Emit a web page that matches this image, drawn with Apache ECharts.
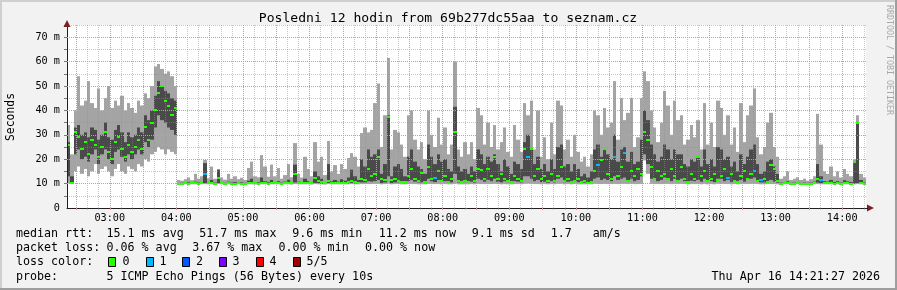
<!DOCTYPE html>
<html><head><meta charset="utf-8">
<script src="https://cdn.jsdelivr.net/npm/echarts@6/dist/echarts.min.js"></script>
<style>html,body{margin:0;padding:0;background:#f2f2f2}#c{width:897px;height:290px}</style>
</head><body><div id="c"></div>
<script>
// time axis in minutes since midnight: 02:21:27 .. 14:21:27
const START_MIN = 141.45;
const END_MIN = 861.45;
const STEP_MIN = 3;

const rttMin = [
 10,9.8,15,17,14,16,13,15,18,14,16,17,15,13,16,18,15,14,17,16,
 15,18,17,20,19,22,23,25,24,22,24,23,22,9.6,9.7,9.7,9.6,9.7,9.7,9.6,
 9.7,9.8,9.7,9.7,9.6,9.8,9.7,9.6,9.7,9.7,9.6,9.7,9.7,9.6,9.7,9.7,9.6,9.7,9.7,9.7,
 9.6,9.7,9.7,9.7,9.6,9.7,9.7,9.6,9.8,9.7,9.7,9.7,9.7,9.6,9.8,9.7,9.7,9.6,9.8,9.7,
 9.7,9.7,9.7,9.7,9.7,9.8,9.7,9.7,9.8,9.8,9.8,9.8,9.9,9.9,9.7,9.8,10,9.7,9.8,9.8,
 9.7,9.7,9.8,9.8,9.8,9.7,9.7,9.7,9.9,9.8,9.8,9.8,9.7,9.8,9.7,9.7,10,9.7,9.7,9.7,
 9.7,9.8,9.7,9.9,9.8,9.8,9.8,9.8,9.9,9.8,9.7,9.8,9.7,9.7,9.8,9.8,9.7,9.9,10,9.9,
 9.8,9.8,9.7,9.8,9.7,9.8,9.7,9.9,9.9,9.7,9.8,9.7,9.8,9.7,9.7,9.7,9.7,9.7,9.9,9.9,
 9.8,9.9,9.8,9.8,9.9,9.8,9.9,9.9,9.8,9.9,9.8,9.8,9.9,19.5,14,9.9,9.8,9.8,9.8,9.9,
 9.9,9.8,9.9,9.8,9.9,9.8,9.7,9.8,9.8,9.8,9.7,9.9,9.7,9.8,9.7,9.9,9.9,9.8,9.8,9.7,
 9.8,9.7,9.8,9.8,9.8,9.9,9.9,9.8,9.7,9.7,9.8,9.8,9.8,9.7,9.6,9.7,9.7,9.6,9.7,9.7,
 9.6,9.7,9.6,9.7,9.7,9.8,9.7,9.7,9.7,9.7,9.6,9.7,9.6,9.7,9.7,9.6,9.7,9.8,9.7,9.6
];
const rttLo = [
 13,10,22,24,20,21,19,22,24,18,22,24,20,18,23,24,21,19,22,20,
 22,24,22,27,25,28,33,38,36,35,33,32,30,9.8,9.8,9.9,9.8,9.9,9.9,9.8,
 9.9,10.2,9.9,10,9.8,10.2,9.9,9.8,9.9,9.9,9.8,9.9,9.9,9.8,9.9,10,9.9,9.9,10,9.9,
 9.8,10,9.9,9.9,9.8,9.9,10,9.9,10.5,9.9,9.9,10,9.9,9.9,10.3,10.2,10,9.9,10.3,9.9,
 10,9.9,10,10,10.1,10.3,10.1,10,10.5,10.5,11,10.8,11,11.5,10.2,10.5,13,10.2,10.5,10.6,
 10.3,10.2,11,11.5,10.8,10.5,10.5,10.2,12,11,10.6,11.5,10.8,11,10.4,10.5,14,10.5,10.3,10.6,
 10.3,10.8,10.4,12,11.5,10.8,11.5,11,12,10.8,10.5,11,10.6,10.3,11,10.8,10.5,13,13,12,
 11,11.5,10.6,10.8,10.4,11,10.5,12,12.5,10.6,10.8,10.4,11,10.6,10.3,10.4,10.2,10.5,12,12.5,
 11.5,12,11.5,11,13,11.5,12,12.5,11,12,11,11.5,13,22,18,12,11.5,11,11.5,12.5,
 12,11,12,11.5,12,11,10.6,11.2,11,11.5,10.8,12,10.8,11,10.6,12,12,11,11.5,10.6,
 11,10.4,11.5,10.8,11.5,12,12.5,11,10.5,10.5,11,11.5,10.8,10.4,9.8,9.9,9.9,9.8,9.9,9.9,
 9.8,9.9,9.8,9.9,9.9,10.4,10.2,9.9,9.9,10,9.9,9.9,9.8,10,9.9,9.9,10,10.2,10,9.8
];
const rttHi = [
 27,13,33,34,30,31,29,33,32,28,30,35,29,28,32,34,31,27,31,29,
 30,33,31,38,36,40,46,52,50,48,47,45,44,10.2,10.3,10.4,10.5,10.3,10.8,10.4,
 10.6,18.4,10.5,11.5,10.4,15.6,10.5,10.3,10.8,10.4,10.6,10.3,10.5,10.3,11.2,12,10.6,10.5,12.5,11,
 10.5,11.5,10.6,11,10.4,10.8,11.6,10.5,17.8,10.8,10.6,12,11,10.6,15,13,12,10.6,18,11,
 11.5,10.8,11.8,11.2,12.5,15.7,13,11.5,20,17,24,21,22,24,14,18,38,13,17,18,
 16,13,21,24,19,17,16,14,26,21,18,22,19,20,16,15,41.5,17,15,16,
 14,17,15,24,22,18,21,19,22,18,15,20,17,14,19,18,16,27,30,24,
 18,21,16,18,15,20,16,25,26,17,18,15,18,16,13,14,12.5,15,24,26,
 21,24,22,20,30,19,24,25,19,23,18,19,28,40,36,26,22,19,21,26,
 24,20,24,22,22,18,17,20,19,21,17,24,18,20,17,25,24,20,21,17,
 19,15,22,18,21,24,26,18,14,15,19,20,17,14,10.4,10.6,11,10.3,10.4,10.6,
 10.3,10.4,10.3,10.4,10.8,18,13,11,10.8,11.5,10.6,11,10.4,11.4,10.9,10.6,19,35,11.5,10.4
];
const rttMax = [
 34,22,40,54,42,44,52,43,41,49,40,45,50,41,44,42,46,40,43,41,
 39,44,42,47,45,50,58,59,57,55,56,54,50,11.5,11.2,11.8,12.5,11.4,14,12,
 13,19.7,12.2,17,12,16,12.5,11.6,14,12,13,11.8,12.4,11.5,16.4,19,13,12.6,21.7,17,
 12.8,17.8,13,16.4,12,13.5,18,12.6,26.6,14,12.5,21,16,13,27,19,21,13.5,27.5,15,
 17.6,14,18,16,20.5,22.5,21,17,30.7,33,31,32,43,51,25,38,61.5,24,32,31,
 26,21,38,40,28,24,27,20,40,30,25,37,26,33,22,26,60,24,21,27,
 22,27,20,41,38,26,35,25,34,24,27,33,23,21,34,28,23,43,38,44,
 24,40,21,29,20,35,22,44,42,24,28,21,30,23,19,21,17,22,40,38,
 30,41,33,35,52,28,45,36,39,45,25,29,45,56,52,40,33,27,35,48,
 42,30,44,36,38,26,28,34,29,36,24,43,26,35,25,44,41,30,38,26,
 33,23,43,27,38,42,49,29,22,25,35,39,25,21,12,13,15,11.5,12,12.6,
 11.5,12,11.2,11.8,13,38.6,26,15,14,17,13,15,12.5,16,14,13,20,38,14,12.5
];
const rttMedian = [
 26,10.3,31,29,24,27,22,28,26,21,25,31,23,20,27,29,24,21,26,23,
 25,28,24,33,28,35,40,47,50,44,42,38,41,10,10,10.1,10,10.1,10.2,10,
 10.1,14,10.1,10.3,10,12.5,10.1,10,10.1,10,10,10.1,10,10,10.2,10.3,10.1,10,10.4,10.2,
 10,10.3,10.1,10.2,10,10.1,10.3,10.1,14,10.2,10.1,10.4,10.2,10.1,12.5,11,10.5,10.1,11,10.2,
 10.3,10.1,10.4,10.2,10.5,11,10.5,10.3,12,11.5,16,13,14,21,12,11.5,37.5,11.5,12,11,
 10.8,10.5,13,16,12,11,14.2,10.6,17,12,12.3,15,11,13,10.5,12,31,11,10.6,11,
 10.5,13,11,16,15.6,12,16,13,21,12,14,12,11,10.8,13,12,11,24,21,24,
 13,16,12,13,11,14,11,13,17,11,12,10.8,11,12,10.5,11,10.4,10.8,15,17.6,
 19.6,24,14,12,21,13,17,22.7,11,15,13,16,14,31,28,17,12,15,13,14,
 12,16,13,11,17,12,10.5,14,12,21,13,15,11,12,14,11,13,16,12.3,14,
 11,10.5,13,15,12,14,15,11,11.5,12,10.8,17.5,16,11,10,10.1,10.2,10,10,10.1,
 9.9,10,9.9,10,10.1,12,11.5,10.2,10.1,10.3,10,10.2,10,10.2,10.1,10,19,35,10.3,10
];
// [sample index, lost pings of 5]
const lossEvents = [[41,1],[110,1],[138,1],[159,1],[164,1],[167,1],[198,1],[206,1],[208,1],[226,1]];

const hourLabelMin = [180,240,300,360,420,480,540,600,660,720,780,840];
const yLabelValues = [0,10,20,30,40,50,60,70];
const lossColors = ['#26ff00','#00b8ff','#0059ff','#7e00ff','#ff0000','#a10000'];
const lossLabels = ['0','1','2','3','4','5/5'];
const titleText = 'Posledni 12 hodin from 69b277dc55aa to seznam.cz';
const legendRtt = ['median rtt:', '15.1 ms avg', '51.7 ms max', '9.6 ms min', '11.2 ms now', '9.1 ms sd', '1.7   am/s'];
const legendLoss = ['packet loss:', '0.06 % avg', '3.67 % max', '0.00 % min', '0.00 % now'];
const legendColorTitle = 'loss color:';
const legendProbe = ['probe:', '5 ICMP Echo Pings (56 Bytes) every 10s'];
const dateText = 'Thu Apr 16 14:21:27 2026';

const lossBySample = {};
lossEvents.forEach(([i, n]) => { lossBySample[i] = n; });
const data = rttMin.map((v, i) => [START_MIN + i * STEP_MIN, v, rttLo[i], rttHi[i], rttMax[i], rttMedian[i], lossBySample[i] || 0]);

// grid positions: minor every 10 minutes, major every 30 minutes; y minor every 5, major every 10
const minorX = [], majorX = [];
for (let m = 150; m <= 860; m += 10) (m % 30 === 0 ? majorX : minorX).push(m);
const minorY = [5,15,25,35,45,55,65,75];
const majorY = [10,20,30,40,50,60,70];

const MONO = '"DejaVu Sans Mono", monospace';
const LEG_FONT = '11.66px ' + MONO;
const GRID_MINOR = 'rgba(143,143,143,0.5)';
const GRID_MAJOR = '#ef8a8a';

function renderItem(params, api) {
  const t = api.value(0);
  const pA = api.coord([t, api.value(1)]);
  const pB = api.coord([t + STEP_MIN, api.value(4)]);
  const x0 = Math.round(pA[0]), x1 = Math.round(pB[0]);
  const w = Math.max(1, x1 - x0);
  const yMin = pA[1], yMax = pB[1];
  const yLo = api.coord([t, api.value(2)])[1];
  const yHi = api.coord([t, api.value(3)])[1];
  const yMed = api.coord([t, api.value(5)])[1];
  const loss = api.value(6);
  return { type: 'group', children: [
    { type: 'rect', shape: { x: x0, y: yMax, width: w, height: Math.max(1, yMin - yMax) }, style: { fill: '#a4a4a4' } },
    { type: 'rect', shape: { x: x0, y: yHi, width: w, height: Math.max(0.5, yLo - yHi) }, style: { fill: '#4a4a4a' } },
    { type: 'rect', shape: { x: x0, y: Math.round(yMed) - 1, width: w, height: 2 }, style: { fill: lossColors[loss] } }
  ]};
}

function txt(x, y, s, align) {
  return { type: 'text', x: x, y: y, style: { text: s, font: LEG_FONT, fill: '#000', align: align || 'left', verticalAlign: 'middle' } };
}

const graphics = [
  { type: 'rect', shape: { x: 0, y: 0, width: 897, height: 2 }, style: { fill: '#cfcfcf' }, silent: true },
  { type: 'rect', shape: { x: 0, y: 0, width: 2, height: 290 }, style: { fill: '#cfcfcf' }, silent: true },
  { type: 'rect', shape: { x: 0, y: 288, width: 897, height: 2 }, style: { fill: '#9e9e9e' }, silent: true },
  { type: 'rect', shape: { x: 895, y: 0, width: 2, height: 290 }, style: { fill: '#9e9e9e' }, silent: true },
  { type: 'polygon', shape: { points: [[63.5, 27], [70.5, 27], [67, 20]] }, style: { fill: '#7f1f1f' }, z: 20 },
  { type: 'polygon', shape: { points: [[867, 204.5], [867, 211.5], [874, 208]] }, style: { fill: '#7f1f1f' }, z: 20 },
  { type: 'rect', shape: { x: 866, y: 208, width: 2, height: 1 }, style: { fill: '#1f1f1f' }, z: 20 },
  { type: 'text', x: 448, y: 19, style: { text: titleText, font: '13.1px ' + MONO, fill: '#000', align: 'center', verticalAlign: 'middle' } },
  { type: 'text', x: 889, y: 60, rotation: -Math.PI / 2, style: { text: 'RRDTOOL / TOBI OETIKER', font: '8.3px ' + MONO, fill: '#a8a8a8', align: 'center', verticalAlign: 'middle' } },
  { type: 'text', x: 11, y: 117, rotation: Math.PI / 2, style: { text: 'Seconds', font: '11.4px ' + MONO, fill: '#000', align: 'center', verticalAlign: 'middle' } },
  txt(880, 276.7, dateText, 'right'),
  txt(16, 262.3, legendColorTitle)
];
const rttX = [16, 106.5, 199.2, 292.2, 378.7, 471.7, 550.7];
legendRtt.forEach((s, k) => graphics.push(txt(rttX[k], 234, s)));
const lossX = [16, 106.5, 192.2, 278.5, 365];
legendLoss.forEach((s, k) => graphics.push(txt(lossX[k], 248.3, s)));
graphics.push(txt(16, 276.7, legendProbe[0]));
graphics.push(txt(106.5, 276.7, legendProbe[1]));
const boxX = [108.5, 146.5, 182.5, 219.5, 256.5, 293.5];
const labX = [122.5, 159.5, 196, 232.5, 269.5, 306.5];
lossColors.forEach((c, k) => {
  graphics.push({ type: 'rect', shape: { x: boxX[k], y: 257.5, width: 7, height: 9 }, style: { fill: c, stroke: '#000', lineWidth: 1 } });
  graphics.push(txt(labX[k], 262.3, lossLabels[k]));
});

const chart = echarts.init(document.getElementById('c'), null, { renderer: 'canvas' });
chart.setOption({
  animation: false,
  backgroundColor: '#f2f2f2',
  grid: { left: 67, right: 31, top: 25, bottom: 82, show: true, backgroundColor: '#ffffff', borderWidth: 0 },
  xAxis: [
    {
      type: 'value', min: START_MIN, max: END_MIN, z: 10,
      axisLine: { show: true, lineStyle: { color: '#1f1f1f', width: 1 } },
      axisTick: { show: true, customValues: minorX, length: 2, lineStyle: { color: GRID_MINOR } },
      splitLine: { show: true, lineStyle: { color: GRID_MINOR, type: [1, 1], width: 1 } },
      axisLabel: {
        customValues: hourLabelMin, margin: 5, fontFamily: MONO, fontSize: 10.2, color: '#000',
        formatter: v => String(Math.floor(v / 60)).padStart(2, '0') + ':00'
      }
    },
    {
      type: 'value', min: START_MIN, max: END_MIN, z: 11, position: 'bottom',
      axisLine: { show: false },
      axisTick: { show: true, customValues: majorX, length: 2, lineStyle: { color: GRID_MAJOR } },
      splitLine: { show: true, lineStyle: { color: GRID_MAJOR, type: [1, 1], width: 1 } },
      axisLabel: { show: false }
    }
  ],
  yAxis: [
    {
      type: 'value', min: 0, max: 75, z: 10,
      axisLine: { show: true, lineStyle: { color: '#1f1f1f', width: 1 } },
      axisTick: { show: true, customValues: minorY, length: 3, lineStyle: { color: '#777' } },
      splitLine: { show: true, lineStyle: { color: GRID_MINOR, type: [1, 1], width: 1 } },
      axisLabel: {
        customValues: yLabelValues, margin: 7, fontFamily: MONO, fontSize: 10.2, color: '#000',
        formatter: v => (v === 0 ? '0' : v + ' m')
      }
    },
    {
      type: 'value', min: 0, max: 75, z: 11, position: 'left',
      axisLine: { show: false },
      axisTick: { show: true, customValues: majorY, length: 3, lineStyle: { color: '#777' } },
      splitLine: { show: true, lineStyle: { color: GRID_MAJOR, type: [1, 1], width: 1 } },
      axisLabel: { show: false }
    }
  ],
  series: [
    { type: 'custom', renderItem: renderItem, data: data, xAxisIndex: 0, yAxisIndex: 0, encode: { x: 0, y: [1, 4] }, clip: true, z: 2, silent: true }
  ],
  graphic: graphics
});
</script></body></html>
